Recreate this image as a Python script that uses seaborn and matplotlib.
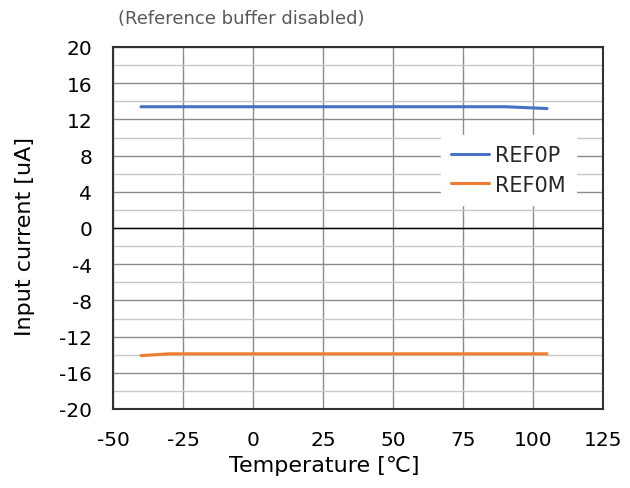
import matplotlib
matplotlib.use("Agg")
import matplotlib.pyplot as plt
import seaborn as sns
import pandas as pd
from matplotlib.ticker import MultipleLocator

temp_p = [-40, -30, 0, 25, 50, 75, 90, 105]
ref0p = [13.4, 13.4, 13.4, 13.4, 13.4, 13.4, 13.4, 13.2]
temp_m = [-40, -30, 0, 25, 50, 75, 90, 105]
ref0m = [-14.1, -13.9, -13.9, -13.9, -13.9, -13.9, -13.9, -13.9]
series_names = ["REF0P", "REF0M"]
colors = ["#4472C4", "#ED7D31"]

df = pd.concat([
    pd.DataFrame({"Temperature": temp_p, "Current": ref0p, "Series": series_names[0]}),
    pd.DataFrame({"Temperature": temp_m, "Current": ref0m, "Series": series_names[1]}),
])

sns.set_theme(style="white")
plt.rcParams['font.family'] = ['DejaVu Sans', 'Noto Sans CJK JP']
plt.rcParams['axes.unicode_minus'] = False

fig = plt.figure(figsize=(6.3, 4.89), dpi=100)
ax = fig.add_axes([113/630, 1-410/489, 490/630, 362/489])

sns.lineplot(data=df, x="Temperature", y="Current", hue="Series",
             palette=dict(zip(series_names, colors)), linewidth=2.2, ax=ax,
             sort=False, estimator=None)

ax.set_xlim(-50, 125)
ax.set_ylim(-20, 20)
ax.xaxis.set_major_locator(MultipleLocator(25))
ax.yaxis.set_major_locator(MultipleLocator(4))
ax.yaxis.set_minor_locator(MultipleLocator(2))
ax.grid(True, which="major", axis="both", color="#8c8c8c", linewidth=1.0)
ax.grid(True, which="minor", axis="y", color="#c8c8c8", linewidth=1.0)
ax.set_axisbelow(True)
ax.axhline(0, color="black", linewidth=1.0, zorder=1.5)
for s in ax.spines.values():
    s.set_visible(True)
    s.set_color("#333333")
    s.set_linewidth(1.5)
ax.tick_params(axis="both", which="both", length=0, labelsize=14.5, colors="black")
ax.tick_params(axis="y", pad=15)
ax.tick_params(axis="x", pad=15)

ax.set_xlabel("Temperature [℃]", fontsize=16, color="black")
ax.set_ylabel("Input current [uA]", fontsize=16, color="black")
ax.xaxis.set_label_coords((324 - 113) / 490, (410 - 456) / 362)
ax.yaxis.set_label_coords((35 - 113) / 490, (410 - 236.5) / 362)

leg = ax.legend(loc="center", bbox_to_anchor=(0.807, 0.660), frameon=True,
                fontsize=15, handlelength=1.8, handletextpad=0.3, labelspacing=0.45,
                borderpad=0.5, borderaxespad=0)
leg.get_frame().set_facecolor("white")
leg.get_frame().set_edgecolor("white")
leg.get_frame().set_alpha(1)
leg.get_frame().set_boxstyle("square", pad=0)

fig.text(118/630, 1-19/489, "(Reference buffer disabled)", fontsize=13,
         color="#595959", ha="left", va="center")

fig.savefig("out.png", dpi=100)
